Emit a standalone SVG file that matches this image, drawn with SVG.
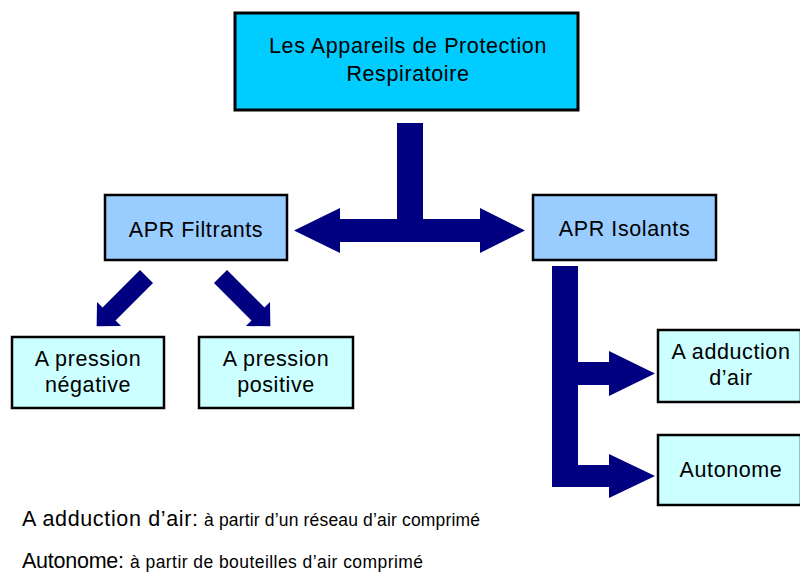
<svg xmlns="http://www.w3.org/2000/svg" width="800" height="576" viewBox="0 0 800 576">
<style>
text{font-family:"Liberation Sans",Arial,sans-serif;fill:#000;}
.t{font-size:21.5px;text-anchor:middle;letter-spacing:0.6px;}
.box{stroke:#000;stroke-width:2.5;}
.top{fill:#00CCFF;stroke-width:3;}
.mid{fill:#99CCFF;}
.leaf{fill:#CCFFFF;}
.arr{fill:#000080;}
.big{font-size:21.5px;}
.small{font-size:17.5px;}
</style>
<rect width="800" height="576" fill="#fff"/>
<g id="connectors">
<polygon class="arr" points="397,123 423,123 423,219 480,219 480,208 525,230.5 480,253 480,242 340,242 340,253 294,230.5 340,208 340,219 397,219"/>
<g transform="translate(146.5,276.5) rotate(135)"><polygon class="arr" points="0,-9.2 53,-9.2 53,-17 70.5,0 53,17 53,9.2 0,9.2"/></g>
<g transform="translate(220.5,276.5) rotate(45)"><polygon class="arr" points="0,-9.2 53,-9.2 53,-17 70.5,0 53,17 53,9.2 0,9.2"/></g>
<polygon class="arr" points="552,266 578,266 578,362 609,362 609,351 655,373.5 609,396 609,385 578,385 578,465 609,465 609,454 655,476 609,498 609,487 552,487"/>
</g>
<g id="root"><rect class="box top" x="235" y="13" width="343" height="97"/>
<text class="t" x="408" y="53">Les Appareils de Protection</text>
<text class="t" x="408" y="81">Respiratoire</text></g>
<g id="filtrants"><rect class="box mid" x="105" y="195" width="182" height="65"/>
<text class="t" x="196" y="237">APR Filtrants</text></g>
<g id="isolants"><rect class="box mid" x="533" y="195" width="183" height="65"/>
<text class="t" x="624.5" y="236">APR Isolants</text></g>
<g id="negative"><rect class="box leaf" x="12" y="337" width="152" height="71"/>
<text class="t" x="88" y="366">A pression</text>
<text class="t" x="88" y="392">négative</text></g>
<g id="positive"><rect class="box leaf" x="199" y="337" width="154" height="71"/>
<text class="t" x="276" y="366">A pression</text>
<text class="t" x="276" y="392">positive</text></g>
<g id="adduction"><rect class="box leaf" x="658" y="330" width="143" height="72"/>
<text class="t" x="731" y="359">A adduction</text>
<text class="t" x="731" y="385">d’air</text></g>
<g id="autonome"><rect class="box leaf" x="658" y="435" width="143" height="70"/>
<text class="t" x="731" y="477">Autonome</text></g>
<g id="legend">
<text class="big" x="22" y="526" textLength="176" lengthAdjust="spacing">A adduction d’air:</text>
<text class="small" x="204" y="526" textLength="276" lengthAdjust="spacing">à partir d’un réseau d’air comprimé</text>
<text class="big" x="22" y="568" textLength="102" lengthAdjust="spacing">Autonome:</text>
<text class="small" x="130" y="568" textLength="293" lengthAdjust="spacing">à partir de bouteilles d’air comprimé</text>
</g>
</svg>
